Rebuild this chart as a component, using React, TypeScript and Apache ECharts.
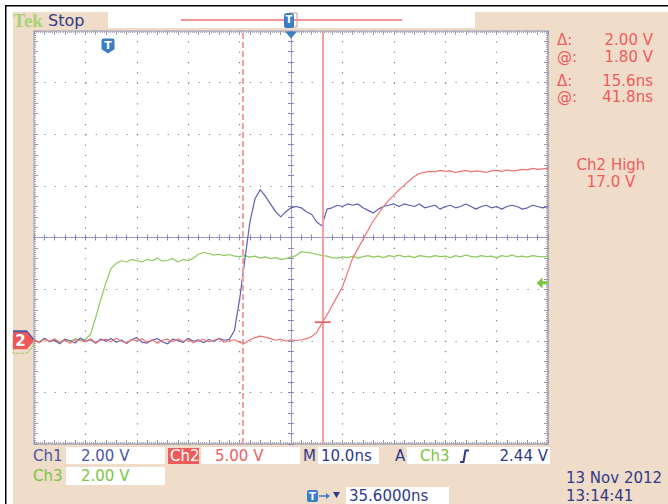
import React, { useEffect, useRef } from "react";
import * as echarts from "echarts";

// ---- data (volts), sampled every 1 ns across the screen, left to right ----
const ch1Volts = [
  0.05, -0.08, 0.1, -0.04, 0.02, -0.12, 0.06, 0.0, -0.09, 0.11,
  -0.03, 0.04, -0.1, 0.07, -0.02, 0.09, -0.06, 0.03, -0.11, 0.05,
  0.12, -0.05, -0.09, 0.02, 0.08, -0.04, -0.12, 0.06, 0.01, -0.07,
  0.1, -0.02, 0.04, -0.08, 0.05, -0.03, 0.09, 0.02, 0.05, 0.4,
  1.6, 3.1, 4.6, 5.5, 5.85, 5.6, 5.3, 5.0, 4.8, 5.0,
  5.15, 5.2, 5.15, 5.0, 4.9, 4.6, 4.45, 5.1, 5.15, 5.25,
  5.2, 5.3, 5.25, 5.3, 5.15, 5.05, 4.95, 5.1, 5.2, 5.25,
  5.3, 5.2, 5.3, 5.25, 5.2, 5.3, 5.15, 5.2, 5.25, 5.1,
  5.2, 5.25, 5.15, 5.2, 5.3, 5.2, 5.1, 5.2, 5.25, 5.15,
  5.2, 5.1, 5.2, 5.25, 5.2, 5.1, 5.15, 5.25, 5.2, 5.15, 5.2,
];
const ch2Volts = [
  0.1, -0.2, 0.15, -0.05, 0.2, -0.15, 0.05, -0.25, 0.1, 0.0,
  -0.1, 0.2, -0.2, 0.05, 0.15, -0.1, 0.25, -0.05, -0.2, 0.1,
  0.0, 0.2, -0.15, 0.1, -0.25, 0.05, 0.15, -0.1, 0.2, -0.05,
  0.1, -0.2, 0.0, 0.15, -0.1, 0.05, 0.2, -0.15, 0.0, 0.1,
  -0.15, -0.25, 0.1, 0.3, 0.45, 0.35, 0.2, 0.05, 0.15, -0.05,
  0.1, 0.0, 0.1, 0.2, 0.4, 0.8, 1.7, 2.5, 3.4, 4.3,
  5.2, 6.6, 8.0, 8.9, 9.8, 10.7, 11.6, 12.3, 13.0, 13.6,
  14.1, 14.6, 15.05, 15.5, 15.9, 16.2, 16.3, 16.4, 16.35, 16.5,
  16.4, 16.45, 16.3, 16.4, 16.5, 16.35, 16.45, 16.4, 16.3, 16.45,
  16.5, 16.4, 16.55, 16.45, 16.5, 16.6, 16.55, 16.7, 16.6, 16.65, 16.7,
];
const ch3Volts = [
  0.05, -0.05, 0.08, -0.03, 0.04, -0.08, 0.06, -0.02, 0.07, 0.03,
  0.05, 0.25, 0.9, 1.6, 2.25, 2.8, 3.0, 3.1, 3.05, 3.15,
  3.1, 3.05, 3.15, 3.1, 3.2, 3.08, 3.12, 3.18, 3.05, 3.15,
  3.1, 3.2, 3.35, 3.42, 3.38, 3.32, 3.35, 3.3, 3.34, 3.28,
  3.26, 3.3, 3.24, 3.28, 3.2, 3.25, 3.18, 3.22, 3.15, 3.18,
  3.24, 3.3, 3.45, 3.42, 3.4, 3.35, 3.3, 3.28, 3.22, 3.2,
  3.25, 3.22, 3.28, 3.2, 3.26, 3.3, 3.24, 3.28, 3.22, 3.3,
  3.26, 3.32, 3.25, 3.28, 3.22, 3.3, 3.27, 3.24, 3.3, 3.26,
  3.28, 3.22, 3.3, 3.25, 3.32, 3.27, 3.24, 3.3, 3.26, 3.28,
  3.22, 3.3, 3.26, 3.32, 3.25, 3.28, 3.24, 3.3, 3.27, 3.25, 3.28,
];
// sample times relative to screen centre (ns)
const timesNs = ch1Volts.map((_, i) => i - 50);

const voltsPerDiv = [2, 5, 2]; // Ch1, Ch2, Ch3
const groundDiv = -2; // all ground markers 2 div below centre
const horizPosNs = 35.6; // trigger -> screen centre
const cursorAtNs = 41.8; // cursor 2 relative to trigger
const cursorDeltaNs = 15.6;
const cursorVolts = 1.8;
const triggerLevelV = 2.24;

const readouts = [
  ["Δ:", "2.00 V"],
  ["@:", "1.80 V"],
  ["Δ:", "15.6ns"],
  ["@:", "41.8ns"],
];

const NAVY = "#2f3a8a";
const BLUE_TXT = "#4b56a8";
const RED = "#ee5d5d";
const GREEN = "#7cc443";
const BEIGE = "#efdcc9";
const ICON = "#3b7ec6";
const FONT = '15px "DejaVu Sans"';

const toDiv = (vals: number[], vpd: number) =>
  timesNs.map((t, i) => [t, vals[i] / vpd + groundDiv]);

const txt = (text: string, x: number, y: number, fill: string, align = "left", font = FONT) => ({
  type: "text",
  x,
  y,
  silent: true,
  style: { text, fill, font, align, verticalAlign: "middle", textAlign: align, textVerticalAlign: "middle" },
});
const box = (x: number, y: number, w: number, h: number, fill = "#ffffff") => ({
  type: "rect",
  silent: true,
  shape: { x, y, width: w, height: h },
  style: { fill },
});

const SHIELD = "path://M0,2 Q0,0 2,0 L10,0 Q12,0 12,2 L12,10 L6,14 L0,10 Z";
const PENT = "path://M0,0 L14,0 L21,8.5 L14,17 L0,17 Z";

export default function App() {
  const ref = useRef<HTMLDivElement>(null);
  useEffect(() => {
    if (!ref.current) return;
    const chart = echarts.init(ref.current, undefined, { renderer: "svg" });
    const xBase: any = {
      type: "value", min: -50, max: 50, silent: true,
      axisLabel: { show: false }, splitLine: { show: false },
      axisTick: { show: false }, axisLine: { show: false, onZero: false },
    };
    const yBase: any = { ...xBase, min: -4, max: 4 };
    const edge = (len: number, color: string) => ({
      axisLine: { show: true, onZero: false, lineStyle: { color, width: 1.5 } },
      axisTick: { show: true, inside: true, length: len, lineStyle: { color: "#9a98b0" } },
      minorTick: { show: true, splitNumber: 5, length: 2, lineStyle: { color: "#a8a6bc" } },
    });
    const centre = (color: string) => ({
      axisLine: { show: true, onZero: true, lineStyle: { color, type: [1, 1.5], width: 1 } },
      axisTick: { show: true, inside: true, length: 3, lineStyle: { color } },
    });
    const cc = "#8a88c0";
    const c2 = cursorAtNs - horizPosNs;
    const c1 = c2 - cursorDeltaNs;
    const trig = -horizPosNs;

    chart.setOption({
      animation: false,
      backgroundColor: BEIGE,
      grid: { left: 34, top: 31, width: 514, height: 413, show: true, backgroundColor: "#ffffff", borderColor: "#e4dab6", borderWidth: 1 },
      xAxis: [
        { ...xBase, interval: 10, splitLine: { show: true, lineStyle: { color: "#808080", width: 1.2, type: [1.2, 9.125] } } },
        { ...xBase, interval: 2, position: "bottom", ...edge(4, "#aaa6b6") },
        { ...xBase, interval: 2, position: "top", ...edge(4, "#b8b4c0") },
        { ...xBase, interval: 2, position: "bottom", ...centre(cc) },
        { ...xBase, interval: 2, position: "top", ...centre(cc) },
      ],
      yAxis: [
        { ...yBase, interval: 1, splitLine: { show: true, lineStyle: { color: "#808080", width: 1.2, type: [1.2, 9.08] } } },
        { ...yBase, interval: 0.2, position: "left", ...edge(4, "#b8b4c0") },
        { ...yBase, interval: 0.2, position: "right", ...edge(4, "#a39eb4") },
        { ...yBase, interval: 0.2, position: "left", ...centre(cc) },
        { ...yBase, interval: 0.2, position: "right", ...centre(cc) },
      ],
      series: [
        {
          type: "line", name: "Ch3", data: toDiv(ch3Volts, voltsPerDiv[2]),
          showSymbol: false, symbol: "none", clip: false, z: 3,
          lineStyle: { color: "#8dca5c", width: 1.2 },
          markPoint: {
            silent: true, animation: false,
            data: [
              { coord: [50, triggerLevelV / voltsPerDiv[2] + groundDiv], symbol: "path://M0,5 L6,0 L6,3.5 L11,3.5 L11,6.5 L6,6.5 L6,10 Z", symbolSize: [11, 11], symbolOffset: [-6, 0], itemStyle: { color: GREEN }, label: { show: false } },
              { coord: [-50, groundDiv], symbol: PENT, symbolSize: [21, 17], symbolOffset: [-10.5, 4], itemStyle: { color: "rgba(0,0,0,0)", borderColor: GREEN, borderWidth: 1.2, borderType: [1, 1] }, label: { show: false } },
            ],
          },
        },
        {
          type: "line", name: "Ch1", data: toDiv(ch1Volts, voltsPerDiv[0]),
          showSymbol: false, symbol: "none", clip: false, z: 4,
          lineStyle: { color: "#5b5fb0", width: 1.2 },
          markPoint: {
            silent: true, animation: false,
            data: [
              { coord: [-50, groundDiv], symbol: PENT, symbolSize: [21, 17], symbolOffset: [-10.5, -2], itemStyle: { color: "#4a58a8" }, label: { show: false } },
              { coord: [trig, 4], symbol: SHIELD, symbolSize: [13, 15], symbolOffset: [0, 15], itemStyle: { color: ICON }, label: { show: true, formatter: "T", color: "#fff", fontWeight: "bold", fontSize: 11, fontFamily: "DejaVu Sans", offset: [0, -1] } },
              { coord: [0, 4], symbol: "triangle", symbolRotate: 180, symbolSize: [12, 7], symbolOffset: [0, 4], itemStyle: { color: ICON }, label: { show: false } },
            ],
          },
        },
        {
          type: "line", name: "Ch2", data: toDiv(ch2Volts, voltsPerDiv[1]),
          showSymbol: false, symbol: "none", clip: false, z: 5,
          lineStyle: { color: "#f07373", width: 1.2 },
          markLine: {
            silent: true, symbol: "none", animation: false, label: { show: false },
            data: [
              { xAxis: c1, lineStyle: { color: "#f4a0a0", width: 2, type: [6, 3] } },
              { xAxis: c2, lineStyle: { color: "#f4a0a0", width: 2, type: "solid" } },
            ],
          },
          markPoint: {
            silent: true, animation: false,
            data: [
              { coord: [c2, cursorVolts / voltsPerDiv[1] + groundDiv], symbol: "rect", symbolSize: [16, 1.5], itemStyle: { color: "#e84c4c" }, label: { show: false } },
              { coord: [-50, groundDiv], symbol: PENT, symbolSize: [21, 17], symbolOffset: [-10.5, 0], itemStyle: { color: "#ee5757" }, label: { show: true, formatter: "2", color: "#fff", fontWeight: "bold", fontSize: 15, fontFamily: "DejaVu Sans", offset: [-3, 0] } },
            ],
          },
        },
      ],
      graphic: [
        box(0, 0, 668, 12),
        box(0, 0, 13, 504),
        box(5, 5, 663, 1.5, "#000"),
        box(5, 5, 1.5, 499, "#000"),
        txt("Tek", 13, 20, "#a9d174", "left", 'bold 19px "Liberation Serif"'),
        txt("Stop", 48, 20, NAVY, "left", '16px "DejaVu Sans"'),
        box(108, 12, 367, 16),
        { type: "line", silent: true, shape: { x1: 181, y1: 20, x2: 402, y2: 20 }, style: { stroke: "#f07070", lineWidth: 1.5 } },
        { type: "rect", silent: true, shape: { x: 289, y: 13, width: 8, height: 14 }, style: { fill: "none", stroke: "#d89090", lineWidth: 1 } },
        { type: "rect", silent: true, shape: { x: 284, y: 13, width: 10, height: 15, r: [3, 3, 2, 2] }, style: { fill: ICON } },
        txt("T", 289, 19.5, "#fff", "center", 'bold 10px "DejaVu Sans"'),
        ...readouts.flatMap(([a, b], i) => {
          const y = [40, 56.5, 80.5, 97][i];
          return [txt(a, 557, y, RED), txt(b, 653, y, RED, "right")];
        }),
        txt("Ch2 High", 611, 165, RED, "center"),
        txt("17.0 V", 611, 181.5, RED, "center"),
        // bottom status
        txt("Ch1", 33, 456, BLUE_TXT),
        box(66, 447, 99, 17),
        txt("2.00 V", 81, 456, BLUE_TXT),
        box(168, 448, 31, 16, "#ee5b5b"),
        txt("Ch2", 170, 456, "#fff"),
        box(201, 447, 99, 17),
        txt("5.00 V", 215, 456, RED),
        txt("M", 303, 456, NAVY),
        box(318, 447, 61, 17),
        txt("10.0ns", 321, 456, NAVY),
        txt("A", 395, 456, NAVY),
        box(407, 447, 143, 17),
        txt("Ch3", 420, 456, GREEN),
        { type: "polyline", silent: true, shape: { points: [[460, 462], [463.5, 462], [465.5, 450.5], [469, 450.5]] }, style: { stroke: NAVY, lineWidth: 2, fill: "none" } },
        txt("2.44 V", 548, 456, NAVY, "right"),
        txt("Ch3", 33, 476, GREEN),
        box(66, 467, 99, 18),
        txt("2.00 V", 81, 476, GREEN),
        { type: "rect", silent: true, shape: { x: 307, y: 490, width: 11, height: 12, r: 2 }, style: { fill: ICON } },
        txt("T", 312.5, 496, "#fff", "center", 'bold 10px "DejaVu Sans"'),
        { type: "line", silent: true, shape: { x1: 319, y1: 496, x2: 328, y2: 496 }, style: { stroke: ICON, lineWidth: 1.5 } },
        { type: "polygon", silent: true, shape: { points: [[326, 493], [330, 496], [326, 499]] }, style: { fill: ICON } },
        { type: "polygon", silent: true, shape: { points: [[333, 492], [340, 492], [336.5, 498]] }, style: { fill: NAVY } },
        box(346, 487, 103, 17),
        txt("35.6000ns", 349, 495.5, NAVY),
        txt("13 Nov 2012", 566, 478, NAVY),
        txt("13:14:41", 566, 495.5, NAVY),
      ],
    });
    return () => chart.dispose();
  }, []);
  return <div ref={ref} style={{ position: "fixed", left: 0, top: 0, width: 668, height: 504 }} />;
}
